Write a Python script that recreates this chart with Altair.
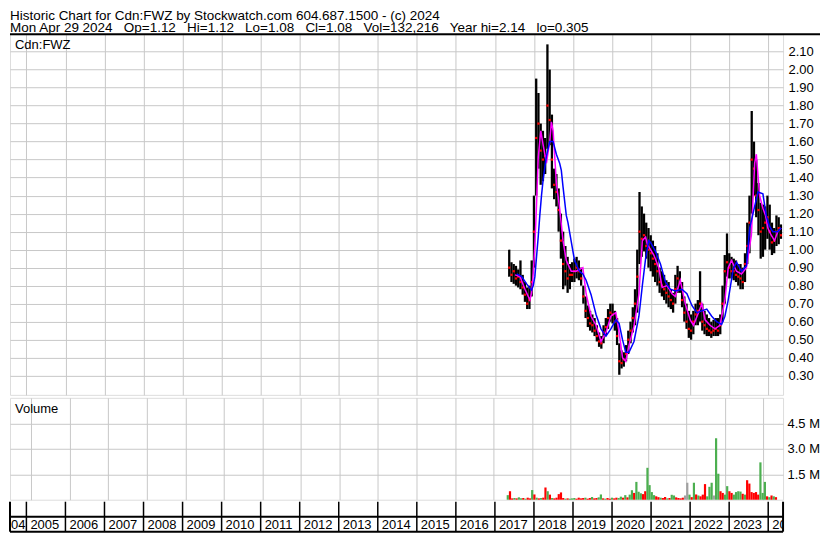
import altair as alt
import pandas as pd

FONT = "Liberation Sans"
GRID = "#c8c8c8"
GREEN = "#4caf50"

GAP = "\u00a0\u00a0 "
HEADER_1 = "Historic Chart for Cdn:FWZ by Stockwatch.com 604.687.1500 - (c) 2024"
HEADER_2 = GAP.join(["Mon Apr 29 2024", "Op=1.12", "Hi=1.12", "Lo=1.08", "Cl=1.08",
                     "Vol=132,216", "Year hi=2.14", "lo=0.305"])
SYMBOL = "Cdn:FWZ"

# ---- price bars (every 21 days) ----
HIGHS = [1.00, 0.93, 0.92, 0.91, 0.89, 0.94, 0.86, 0.82, 0.79, 0.80,
         0.94, 1.30, 1.95, 1.87, 1.70, 1.66, 1.62, 2.14, 2.00, 1.75,
         1.45, 1.42, 1.34, 1.20, 1.10, 1.02, 0.96, 0.92, 0.93, 0.95,
         0.96, 0.94, 0.90, 0.80, 0.74, 0.69, 0.66, 0.64, 0.62, 0.58,
         0.54, 0.52, 0.58, 0.62, 0.67, 0.70, 0.70, 0.66, 0.62, 0.48,
         0.44, 0.43, 0.47, 0.55, 0.60, 0.68, 0.78, 1.00, 1.32, 1.24,
         1.20, 1.15, 1.12, 1.08, 1.05, 1.02, 0.98, 0.90, 0.88, 0.86,
         0.83, 0.82, 0.78, 0.76, 0.86, 0.91, 0.88, 0.82, 0.74, 0.70,
         0.66, 0.64, 0.66, 0.70, 0.72, 0.88, 0.70, 0.66, 0.64, 0.62,
         0.60, 0.61, 0.62, 0.62, 0.64, 0.80, 0.97, 1.09, 0.98, 0.96,
         0.95, 0.94, 0.92, 0.92, 0.90, 0.98, 1.15, 1.30, 1.77, 1.60,
         1.50, 1.37, 1.26, 1.25, 1.24, 1.30, 1.25, 1.15, 1.12, 1.19,
         1.18, 1.14]
LOWS = [0.85, 0.82, 0.81, 0.80, 0.79, 0.78, 0.75, 0.71, 0.67, 0.67,
        0.74, 0.90, 1.30, 1.45, 1.36, 1.38, 1.42, 1.56, 1.58, 1.34,
        1.28, 1.24, 1.10, 0.95, 0.78, 0.80, 0.76, 0.78, 0.82, 0.82,
        0.84, 0.83, 0.80, 0.70, 0.62, 0.57, 0.55, 0.54, 0.52, 0.49,
        0.46, 0.45, 0.48, 0.52, 0.56, 0.60, 0.59, 0.55, 0.47, 0.305,
        0.34, 0.35, 0.38, 0.42, 0.48, 0.54, 0.58, 0.65, 0.92, 0.96,
        0.99, 0.95, 0.90, 0.88, 0.85, 0.82, 0.80, 0.76, 0.74, 0.72,
        0.70, 0.68, 0.67, 0.65, 0.70, 0.76, 0.76, 0.68, 0.60, 0.56,
        0.51, 0.50, 0.53, 0.58, 0.58, 0.60, 0.55, 0.53, 0.52, 0.52,
        0.51, 0.52, 0.52, 0.52, 0.53, 0.60, 0.70, 0.85, 0.84, 0.84,
        0.83, 0.82, 0.80, 0.78, 0.78, 0.82, 0.92, 0.98, 1.20, 1.30,
        1.18, 1.08, 0.95, 0.96, 1.00, 1.06, 1.00, 0.97, 0.98, 1.02,
        1.03, 1.06]
CLOSES = [0.90, 0.86, 0.88, 0.84, 0.85, 0.82, 0.79, 0.75, 0.70, 0.72,
          0.82, 1.10, 1.62, 1.70, 1.55, 1.50, 1.52, 1.80, 1.72, 1.50,
          1.36, 1.32, 1.22, 1.05, 0.92, 0.88, 0.84, 0.86, 0.86, 0.88,
          0.90, 0.88, 0.84, 0.74, 0.66, 0.62, 0.59, 0.58, 0.55, 0.52,
          0.49, 0.48, 0.54, 0.57, 0.62, 0.65, 0.64, 0.60, 0.52, 0.38,
          0.37, 0.39, 0.42, 0.50, 0.55, 0.62, 0.70, 0.85, 1.10, 1.06,
          1.08, 1.02, 1.00, 0.98, 0.95, 0.92, 0.88, 0.82, 0.80, 0.78,
          0.76, 0.74, 0.72, 0.70, 0.78, 0.84, 0.82, 0.72, 0.65, 0.60,
          0.56, 0.55, 0.60, 0.64, 0.66, 0.70, 0.60, 0.58, 0.56, 0.55,
          0.54, 0.55, 0.56, 0.55, 0.58, 0.70, 0.88, 0.93, 0.90, 0.88,
          0.88, 0.86, 0.85, 0.84, 0.82, 0.92, 1.02, 1.15, 1.50, 1.45,
          1.30, 1.22, 1.10, 1.12, 1.15, 1.18, 1.10, 1.04, 1.05, 1.10,
          1.12, 1.08]
VOLS = [0.27, 0.50, 0.08, 0.10, 0.08, 0.14, 0.08, 0.10, 0.06, 0.12,
        0.08, 0.57, 0.31, 0.12, 0.08, 0.10, 0.12, 0.72, 0.50, 0.30,
        0.10, 0.08, 0.12, 0.33, 0.43, 0.10, 0.06, 0.08, 0.06, 0.08,
        0.10, 0.06, 0.12, 0.08, 0.10, 0.12, 0.06, 0.10, 0.16, 0.08,
        0.10, 0.14, 0.31, 0.08, 0.06, 0.10, 0.06, 0.12, 0.08, 0.12,
        0.10, 0.18, 0.12, 0.27, 0.14, 0.30, 0.56, 0.40, 1.05, 0.47,
        0.38, 0.33, 0.50, 1.88, 0.86, 0.45, 0.27, 0.20, 0.15, 0.12,
        0.10, 0.16, 0.08, 0.10, 0.29, 0.25, 0.14, 0.10, 0.08, 0.12,
        0.25, 1.00, 0.30, 0.15, 1.00, 0.31, 0.25, 0.20, 0.30, 0.92,
        0.20, 0.76, 1.00, 0.25, 3.62, 1.53, 0.50, 0.40, 0.30, 0.80,
        0.50, 0.40, 0.30, 0.45, 0.50, 0.48, 0.35, 0.30, 1.15, 0.95,
        0.45, 0.40, 0.45, 0.30, 2.20, 0.40, 1.05, 0.20, 0.15, 0.25,
        0.20, 0.15]
DIRS = ("udduduudud" "dudududdud" "uddddduduu" "udddduddud" "duududdudd"
        "uududuuduu" "udduuuuddu" "dduduudddd" "ffudududdd" "uuufuudduu"
        "dduuuududd" "dddduuudud" "ud")

# ---- moving averages ----
MA_S_YR = [2017.515, 2017.642, 2017.769, 2017.896, 2017.94, 2017.982, 2018.023, 2018.066,
           2018.109, 2018.175, 2018.236, 2018.320, 2018.404, 2018.447, 2018.490, 2018.574,
           2018.658, 2018.744, 2018.828, 2018.955, 2019.082, 2019.252, 2019.336, 2019.463,
           2019.590, 2019.717, 2019.843, 2019.970, 2020.097, 2020.181, 2020.268, 2020.351,
           2020.435, 2020.562, 2020.689, 2020.776, 2020.859, 2020.902, 2021.070, 2021.197,
           2021.283, 2021.410, 2021.537, 2021.621, 2021.748, 2021.875, 2022.002, 2022.086,
           2022.213, 2022.299, 2022.383, 2022.510, 2022.637, 2022.764, 2022.891, 2022.975,
           2023.061, 2023.188, 2023.315, 2023.442, 2023.569, 2023.653, 2023.696, 2023.780,
           2023.864, 2023.932, 2023.990, 2024.077, 2024.161, 2024.244, 2024.33]
MA_S = [0.86, 0.85, 0.78, 0.72, 0.76, 0.87, 1.02, 1.25,
        1.51, 1.66, 1.58, 1.48, 1.60, 1.71, 1.66, 1.37,
        1.23, 1.05, 0.94, 0.88, 0.88, 0.90, 0.755, 0.63,
        0.58, 0.49, 0.54, 0.63, 0.65, 0.54, 0.40, 0.38,
        0.47, 0.575, 0.755, 1.05, 1.07, 1.03, 0.97, 0.90,
        0.79, 0.80, 0.755, 0.74, 0.83, 0.70, 0.61, 0.58,
        0.65, 0.70, 0.61, 0.58, 0.56, 0.58, 0.72, 0.90,
        0.94, 0.88, 0.865, 0.90, 1.08, 1.48, 1.53, 1.30,
        1.23, 1.19, 1.12, 1.08, 1.05, 1.10, 1.12]
MA_L_YR = [2017.558, 2017.685, 2017.812, 2017.90, 2017.939, 2017.982, 2018.023, 2018.066,
           2018.109, 2018.150, 2018.193, 2018.236, 2018.320, 2018.404, 2018.490, 2018.574,
           2018.658, 2018.701, 2018.744, 2018.828, 2018.871, 2018.955, 2019.039, 2019.166,
           2019.252, 2019.336, 2019.463, 2019.590, 2019.717, 2019.843, 2019.970, 2020.097,
           2020.181, 2020.268, 2020.351, 2020.435, 2020.562, 2020.689, 2020.776, 2020.859,
           2020.940, 2020.986, 2021.113, 2021.240, 2021.367, 2021.494, 2021.621, 2021.791,
           2021.918, 2022.045, 2022.172, 2022.299, 2022.426, 2022.553, 2022.680, 2022.807,
           2022.891, 2022.975, 2023.102, 2023.188, 2023.315, 2023.442, 2023.526, 2023.653,
           2023.737, 2023.864, 2023.949, 2024.033, 2024.117, 2024.244, 2024.33]
MA_L = [0.865, 0.85, 0.81, 0.785, 0.775, 0.80, 0.85, 0.96,
        1.07, 1.19, 1.30, 1.39, 1.52, 1.60, 1.60, 1.53,
        1.48, 1.44, 1.35, 1.19, 1.15, 1.045, 0.94, 0.88,
        0.865, 0.83, 0.75, 0.64, 0.56, 0.52, 0.56, 0.61,
        0.59, 0.50, 0.43, 0.43, 0.49, 0.63, 0.80, 0.95,
        1.05, 1.04, 0.99, 0.92, 0.82, 0.78, 0.77, 0.78,
        0.755, 0.69, 0.65, 0.66, 0.67, 0.63, 0.60, 0.585,
        0.63, 0.72, 0.89, 0.93, 0.88, 0.91, 1.12, 1.24,
        1.32, 1.31, 1.19, 1.13, 1.10, 1.10, 1.12]

YEAR_LINES = list(range(2005, 2025))
YEAR_LABELS = [str(y) for y in range(2005, 2025)]
PRICE_TICKS = [round(0.3 + 0.1 * i, 2) for i in range(19)]
VOL_TICKS = [1.5, 3.0, 4.5]
X_DOMAIN = [2004.58, 2024.38]
PRICE_DOMAIN = [0.1935, 2.196]
VOL_DOMAIN = [0, 6]

W = 774
PRICE_H = 361
VOL_H = 102
BAND_H = 30

dates = pd.date_range("2017-05-15", periods=len(HIGHS), freq="21D")
yr = dates.year + (dates.dayofyear - 1) / 365.25

price_df = pd.DataFrame({"yr": yr, "hi": HIGHS, "lo": LOWS, "cl": CLOSES})
dir_map = {"u": "up", "d": "down", "f": "flat"}
vol_df = pd.DataFrame({"yr": yr, "vol": VOLS, "dir": [dir_map[c] for c in DIRS]})
mas_df = pd.DataFrame({"yr": MA_S_YR, "v": MA_S})
mal_df = pd.DataFrame({"yr": MA_L_YR, "v": MA_L})

xscale = alt.Scale(domain=X_DOMAIN, nice=False, zero=False)


def xenc():
    return alt.X("yr:Q", scale=xscale,
                 axis=alt.Axis(values=YEAR_LINES, labels=False, ticks=False, domain=False,
                               grid=True, gridColor=GRID, gridWidth=1, title=None))


def yprice(field):
    return alt.Y(f"{field}:Q", scale=alt.Scale(domain=PRICE_DOMAIN, nice=False, zero=False),
                 axis=alt.Axis(orient="right", values=PRICE_TICKS, format=".2f", grid=True,
                               gridColor=GRID, gridWidth=1, ticks=False, domain=False,
                               labelPadding=5, labelFontSize=13, labelFont=FONT,
                               labelColor="black", title=None))


hl = alt.Chart(price_df).mark_rule(color="black", strokeWidth=2.3).encode(
    x=xenc(), y=yprice("lo"), y2="hi:Q")
cl = alt.Chart(price_df).mark_square(color="#ff0000", size=5, opacity=1).encode(
    x=xenc(), y=yprice("cl"))
mas = alt.Chart(mas_df).mark_line(color="#ff00ff", strokeWidth=1.5).encode(
    x=xenc(), y=yprice("v"))
mal = alt.Chart(mal_df).mark_line(color="#0000ff", strokeWidth=1.5).encode(
    x=xenc(), y=yprice("v"))


def label(txt, x, y, size=13, baseline="alphabetic"):
    return alt.Chart(pd.DataFrame({"t": [txt]})).mark_text(
        align="left", baseline=baseline, fontSize=size, font=FONT, color="black"
    ).encode(text="t:N", x=alt.value(x), y=alt.value(y))


one = pd.DataFrame({"a": [0]})
top_line = alt.Chart(one).mark_rule(color="black", strokeWidth=2).encode(
    x=alt.value(0), x2=alt.value(W + 37), y=alt.value(0))

price = alt.layer(
    hl, cl, mas, mal, top_line,
    label(HEADER_1, 0, -25, 13.5, "top"), label(HEADER_2, 0, -13, 13.5, "top"),
    label(SYMBOL, 5, 15)
).properties(width=W, height=PRICE_H)

vol_bars = alt.Chart(vol_df).mark_bar(size=2.2).encode(
    x=xenc(),
    y=alt.Y("vol:Q", scale=alt.Scale(domain=VOL_DOMAIN, nice=False),
            axis=alt.Axis(orient="right", values=VOL_TICKS,
                          labelExpr="format(datum.value, '.1f') + ' M'",
                          grid=True, gridColor=GRID, gridWidth=1, ticks=False, domain=False,
                          labelPadding=4, labelFontSize=13, labelFont=FONT,
                          labelColor="black", title=None)),
    color=alt.Color("dir:N", scale=alt.Scale(domain=["up", "down", "flat"],
                                             range=[GREEN, "#ff0000", "#a0a0a0"]),
                    legend=None),
)
volume = alt.layer(vol_bars, label("Volume", 5, 15)).properties(width=W, height=VOL_H)

# ---- year band ----
years_df = pd.DataFrame({"yr": YEAR_LINES, "label": YEAR_LABELS})
sep = alt.Chart(years_df).mark_rule(color="black", strokeWidth=1.5).encode(
    x=alt.X("yr:Q", scale=xscale, axis=None), y=alt.value(0), y2=alt.value(BAND_H))
mid = alt.Chart(one).mark_rule(color="black", strokeWidth=2).encode(
    x=alt.value(0), x2=alt.value(W), y=alt.value(15))
bot = alt.Chart(one).mark_rule(color="black", strokeWidth=2).encode(
    x=alt.value(0), x2=alt.value(W), y=alt.value(BAND_H))
lft = alt.Chart(one).mark_rule(color="black", strokeWidth=2).encode(
    x=alt.value(0), y=alt.value(0), y2=alt.value(BAND_H))
rgt = alt.Chart(one).mark_rule(color="black", strokeWidth=2).encode(
    x=alt.value(W), y=alt.value(0), y2=alt.value(BAND_H))
labs = alt.Chart(years_df).mark_text(
    align="left", dx=4, baseline="alphabetic", fontSize=13, font=FONT, color="black", clip=True
).encode(x=alt.X("yr:Q", scale=xscale, axis=None), y=alt.value(27), text="label:N")
first_lab = alt.Chart(pd.DataFrame({"yr": [2005], "label": ["2004"]})).mark_text(
    align="right", dx=-1, baseline="alphabetic", fontSize=13, font=FONT, color="black", clip=True
).encode(x=alt.X("yr:Q", scale=xscale, axis=None), y=alt.value(27), text="label:N")
band = alt.layer(sep, mid, bot, lft, rgt, labs, first_lab).properties(
    width=W, height=BAND_H, view=alt.ViewBackground(stroke="transparent", strokeWidth=0))

chart = alt.vconcat(
    price,
    alt.vconcat(volume, band, spacing=0),
    spacing=1,
).properties(padding=0).configure_view(stroke="black", strokeWidth=2).configure(font=FONT)

chart.save("out.html", embed_options={"renderer": "svg", "actions": False})
